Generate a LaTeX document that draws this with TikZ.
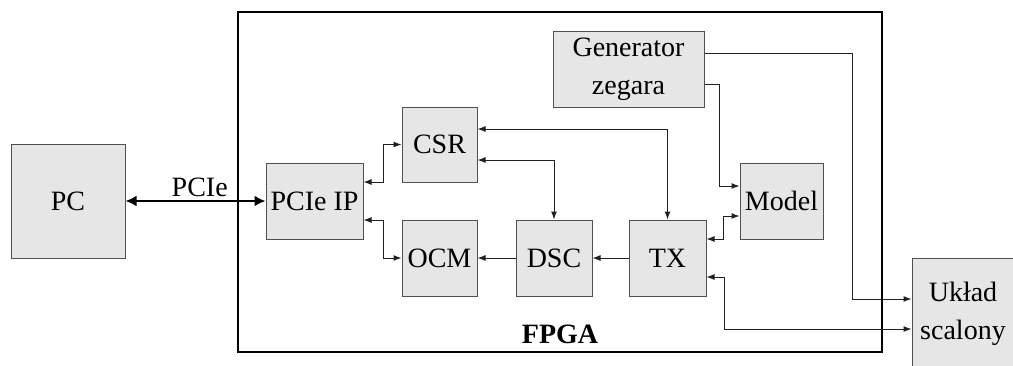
\documentclass[tikz,border=0pt]{standalone}
\usepackage{fontspec}
\setmainfont{Liberation Serif}
\usetikzlibrary{arrows.meta}
\definecolor{boxfill}{HTML}{E6E6E6}
\definecolor{boxline}{HTML}{505050}
\definecolor{wire}{HTML}{202020}
\begin{document}
\begin{tikzpicture}[x=1pt,y=-1pt,
  blk/.style={draw=boxline, fill=boxfill, line width=1pt, inner sep=0pt, align=center,
    font=\fontsize{28}{38}\selectfont},
  wr/.style={draw=wire, line width=1pt},
  tip/.style={-{Latex[length=8pt,width=6pt]}},
  btip/.style={{Latex[length=8pt,width=6pt]}-{Latex[length=8pt,width=6pt]}},
  ]
\useasboundingbox (0,0) rectangle (1013,365);
\node[draw=black, line width=2.2pt, minimum width=644pt, minimum height=340pt, inner sep=0pt] (fpga) at (560,182) {};
\node[font=\fontsize{28}{34}\selectfont\bfseries] (fpgalbl) at (560,334) {FPGA};

\node[blk, minimum width=114pt, minimum height=114pt] (pc) at (68,201) {PC};
\node[blk, minimum width=97pt, minimum height=76pt] (pcie) at (314.5,201) {PCIe IP};
\node[blk, minimum width=75pt, minimum height=75pt] (csr) at (439.5,144.5) {CSR};
\node[blk, minimum width=75pt, minimum height=76pt] (ocm) at (439.5,258) {OCM};
\node[blk, minimum width=76pt, minimum height=76pt] (dsc) at (554,258) {DSC};
\node[blk, minimum width=77pt, minimum height=76pt] (tx) at (667.5,258) {TX};
\node[blk, minimum width=83pt, minimum height=76pt] (model) at (781.5,201) {Model};
\node[blk, minimum width=151pt, minimum height=76pt] (gen) at (628.5,69) {Generator\\zegara};
\node[blk, minimum width=102pt, minimum height=112pt] (uklad) at (963,314) {Układ\\scalony};

\draw[line width=2.8pt, {Latex[length=11pt,width=11pt]}-{Latex[length=11pt,width=11pt]}] (pc.east) -- (pcie.west)
  node[pos=0.53, above=3pt, font=\fontsize{28}{34}\selectfont, inner sep=0pt] (pcielbl) {PCIe};

\draw[wr, btip] ([yshift=19pt]pcie.east) -- ++(20,0) |- (csr.west);
\draw[wr, btip] ([yshift=-19pt]pcie.east) -- ++(20,0) |- (ocm.west);
\draw[wr, tip] (dsc.west) -- (ocm.east);
\draw[wr, tip] (tx.west) -- (dsc.east);
\draw[wr, btip] ([yshift=15.5pt]csr.east) -| (tx.north);
\draw[wr, btip] ([yshift=-15.5pt]csr.east) -| (dsc.north);
\draw[wr, tip] ([yshift=-15pt]gen.east) -- ++(15,0) |- ([yshift=15pt]model.west);
\draw[wr, btip] ([yshift=-15pt]model.west) -- ++(-16,0) |- ([yshift=19pt]tx.east);
\draw[wr, tip] ([yshift=16pt]gen.east) -- ++(148,0) |- ([yshift=15pt]uklad.west);
\draw[wr, btip] ([yshift=-19pt]tx.east) -- ++(18,0) |- ([yshift=-15pt]uklad.west);
\end{tikzpicture}
\end{document}
